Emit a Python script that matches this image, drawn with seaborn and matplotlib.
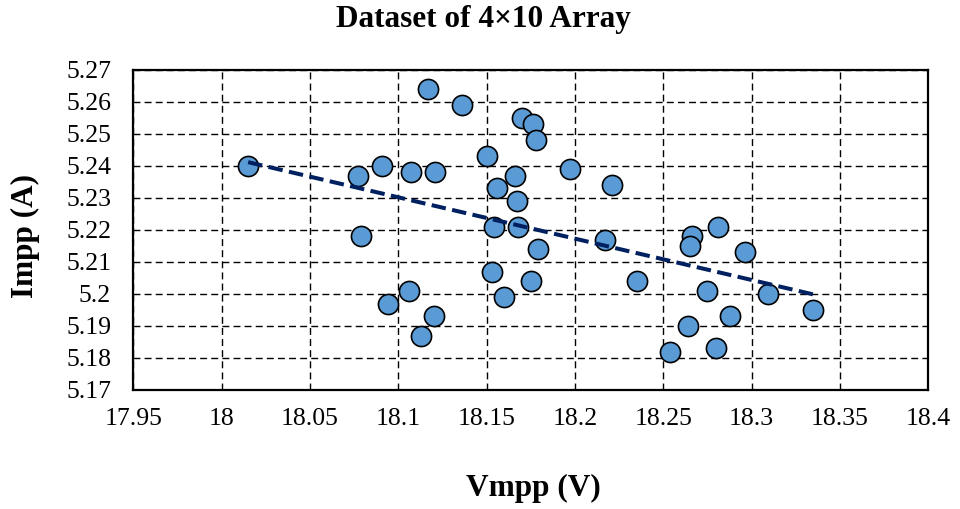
import numpy as np
import pandas as pd
import matplotlib
matplotlib.use("Agg")
import matplotlib.pyplot as plt
import seaborn as sns

vmpp = [18.015, 18.117, 18.136, 18.170, 18.176, 18.178, 18.150, 18.077, 18.091, 18.107,
        18.121, 18.166, 18.156, 18.167, 18.079, 18.154, 18.168, 18.179, 18.153, 18.175,
        18.160, 18.106, 18.094, 18.120, 18.113, 18.197, 18.221, 18.217, 18.266, 18.265,
        18.281, 18.296, 18.235, 18.275, 18.309, 18.335, 18.288, 18.264, 18.254, 18.280]
impp = [5.240, 5.264, 5.259, 5.255, 5.253, 5.248, 5.243, 5.237, 5.240, 5.238,
        5.238, 5.237, 5.233, 5.229, 5.218, 5.221, 5.221, 5.214, 5.207, 5.204,
        5.199, 5.201, 5.197, 5.193, 5.187, 5.239, 5.234, 5.217, 5.218, 5.215,
        5.221, 5.213, 5.204, 5.201, 5.200, 5.195, 5.193, 5.190, 5.182, 5.183]

x_ticks = [17.95, 18.0, 18.05, 18.1, 18.15, 18.2, 18.25, 18.3, 18.35, 18.4]
x_labels = ["17.95", "18", "18.05", "18.1", "18.15", "18.2", "18.25", "18.3", "18.35", "18.4"]
y_ticks = [5.17, 5.18, 5.19, 5.2, 5.21, 5.22, 5.23, 5.24, 5.25, 5.26, 5.27]
y_labels = ["5.17", "5.18", "5.19", "5.2", "5.21", "5.22", "5.23", "5.24", "5.25", "5.26", "5.27"]

df = pd.DataFrame({"Vmpp": vmpp, "Impp": impp})

sns.set_theme(style="white")
plt.rcParams["font.family"] = ["Liberation Serif", "DejaVu Serif"]
plt.rcParams["text.color"] = "black"
plt.rcParams["xtick.color"] = "black"
plt.rcParams["ytick.color"] = "black"

fig = plt.figure(figsize=(9.6, 5.09), dpi=100)
ax = fig.add_axes([133.3 / 960, 1 - 390 / 509, (928.3 - 133.3) / 960, 320 / 509])

sns.scatterplot(data=df, x="Vmpp", y="Impp", ax=ax, s=210, color="#5B9BD5",
                edgecolor="black", linewidth=1.2, zorder=3, legend=False)
sns.regplot(data=df, x="Vmpp", y="Impp", ax=ax, scatter=False, ci=None,
            line_kws=dict(color="#002060", lw=2.9, dashes=(3.6, 1.6), zorder=4))

ax.set_xlim(17.95, 18.4)
ax.set_ylim(5.17, 5.27)
ax.set_xticks(x_ticks)
ax.set_xticklabels(x_labels)
ax.set_yticks(y_ticks)
ax.set_yticklabels(y_labels)
ax.tick_params(axis="both", length=0, labelsize=18.5, colors="black", labelcolor="black")
ax.tick_params(axis="x", pad=13)
ax.tick_params(axis="y", pad=16)

ax.grid(True, color="black", lw=1.0, linestyle=(0, (5, 3)), zorder=1)
ax.set_axisbelow(True)
for sp in ax.spines.values():
    sp.set_visible(True)
    sp.set_color("black")
    sp.set_linewidth(1.6)

ax.set_xlabel("")
ax.set_ylabel("")
fig.text(533 / 960, 1 - 488 / 509, "Vmpp (V)", ha="center", va="center",
         fontsize=22.5, fontweight="bold", color="black")
fig.text(25 / 960, 1 - 236 / 509, "Impp (A)", ha="center", va="center",
         fontsize=22.5, fontweight="bold", rotation=90, color="black")
fig.text(483.5 / 960, 1 - 19 / 509, "Dataset of 4\u00d710 Array", ha="center", va="center",
         fontsize=22.5, fontweight="bold", color="black")

fig.savefig("out.png", dpi=100)
